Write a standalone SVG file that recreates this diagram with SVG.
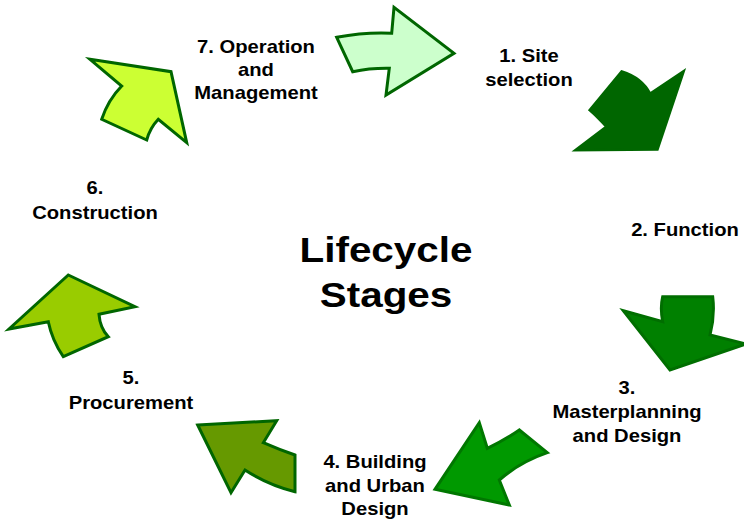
<svg xmlns="http://www.w3.org/2000/svg" width="744" height="528" viewBox="0 0 744 528">
  <style>
    .lbl { font-family: "Liberation Sans", Arial, sans-serif; font-weight: bold; font-size: 17.5px; fill: #000; text-anchor: middle; }
    .title { font-family: "Liberation Sans", Arial, sans-serif; font-weight: bold; font-size: 35px; fill: #000; text-anchor: middle; }
    .arr { stroke-width: 3; stroke-linejoin: miter; }
  </style>
  <rect width="744" height="528" fill="#ffffff"/>

  <!-- cycle arrows -->
  <g id="connectors">
    <path id="arrow-1" class="arr" fill="#ccffcc" stroke="#006600" d="M336.7,37.3 Q365,32 391.7,33.3 L394,7.3 L454,53.3 L386,95 L389.3,68.3 Q370,68 352.7,71.7 Z"/>
    <path id="arrow-2" class="arr" fill="#006600" stroke="#006600" stroke-width="1" d="M621.7,71.7 Q642,78 650,94 L683.3,71.7 L657.3,149.3 L576,150 L606.7,126.7 Q597,116 590,110 Z"/>
    <path id="arrow-3" class="arr" fill="#008000" stroke="#006e00" d="M662.7,296.7 L712.7,296.7 Q715,316 710,335 L746,344 L670,370 L623.3,310.7 L662.7,321.7 Q660,308 662.7,296.7 Z"/>
    <path id="arrow-4" class="arr" fill="#009900" stroke="#007700" d="M479.3,422.7 L487.3,448.3 Q505,440 519.3,430 L547.3,452.7 Q520,462 499.3,480 L509.3,505 L435,489.3 Z"/>
    <path id="arrow-5" class="arr" fill="#669900" stroke="#006600" d="M197.7,425 L276.7,420.7 L263.3,442.7 Q280,450 295,455 L295,491.7 Q268,485 245,470 L231,492.7 Z"/>
    <path id="arrow-6" class="arr" fill="#99cc00" stroke="#006600" d="M68.3,275 L135,306.7 L99,314.3 Q100,328 108.3,336.7 L63.3,356.7 Q52,340 48.3,321.7 L9,329 Z"/>
    <path id="arrow-7" class="arr" fill="#ccff33" stroke="#006600" d="M90,59.3 L171,71.7 L186.7,142.7 L158.3,119.3 Q150,128 146.7,140 L101.7,119.3 Q108,100 121.7,86 Z"/>
  </g>

  <g id="center">
    <text class="title" transform="translate(386,262) scale(1.155,1)"><tspan x="0" y="0">Lifecycle</tspan><tspan x="0" y="45">Stages</tspan></text>
  </g>

  <g id="stage-1">
    <text class="lbl" transform="translate(529,62) scale(1.155,1)"><tspan x="0" y="0">1. Site</tspan><tspan x="0" y="24">selection</tspan></text>
  </g>
  <g id="stage-2">
    <text class="lbl" transform="translate(685,236) scale(1.155,1)"><tspan x="0" y="0">2. Function</tspan></text>
  </g>
  <g id="stage-3">
    <text class="lbl" transform="translate(627,394) scale(1.155,1)"><tspan x="0" y="0">3.</tspan><tspan x="0" y="24">Masterplanning</tspan><tspan x="0" y="48">and Design</tspan></text>
  </g>
  <g id="stage-4">
    <text class="lbl" transform="translate(375,468) scale(1.155,1)"><tspan x="0" y="0">4. Building</tspan><tspan x="0" y="24">and Urban</tspan><tspan x="0" y="47">Design</tspan></text>
  </g>
  <g id="stage-5">
    <text class="lbl" transform="translate(131,384) scale(1.155,1)"><tspan x="0" y="0">5.</tspan><tspan x="0" y="25">Procurement</tspan></text>
  </g>
  <g id="stage-6">
    <text class="lbl" transform="translate(95,194) scale(1.155,1)"><tspan x="0" y="0">6.</tspan><tspan x="0" y="25">Construction</tspan></text>
  </g>
  <g id="stage-7">
    <text class="lbl" transform="translate(256,53) scale(1.155,1)"><tspan x="0" y="0">7. Operation</tspan><tspan x="0" y="23">and</tspan><tspan x="0" y="46">Management</tspan></text>
  </g>
</svg>
